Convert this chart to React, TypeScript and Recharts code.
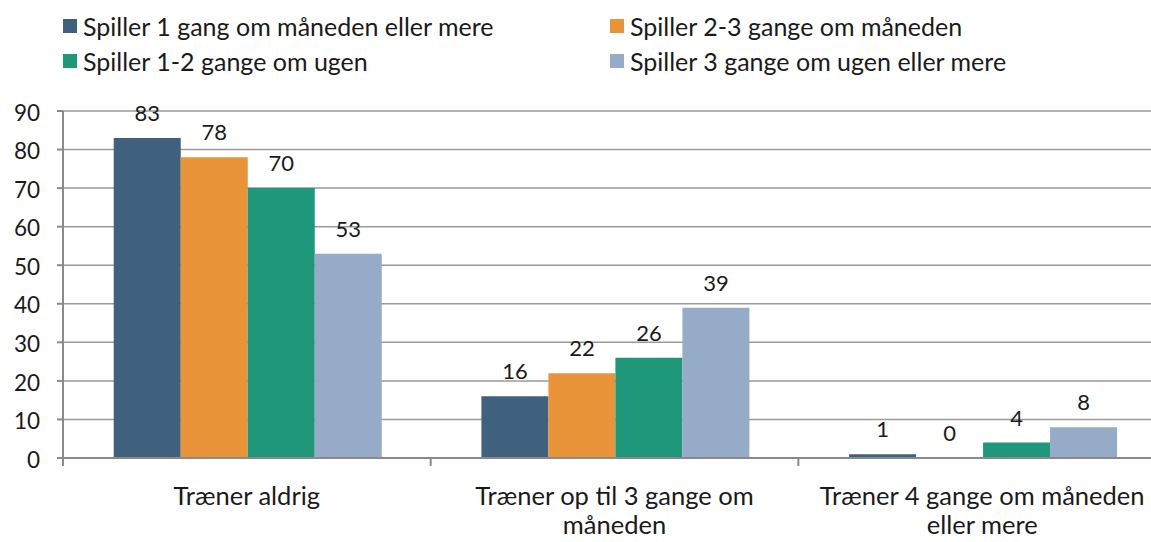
import { BarChart, Bar, XAxis, YAxis, CartesianGrid, LabelList } from "recharts";

// category labels, with the line breaks used in the original
const categories = ["Træner aldrig", "Træner op til 3 gange om\nmåneden", "Træner 4 gange om måneden\neller mere"];
const monthlyOrMore = [83, 16, 1];
const twoThreeMonthly = [78, 22, 0];
const oneTwoWeekly = [70, 26, 4];
const threeWeeklyOrMore = [53, 39, 8];
const yTicks = [0, 10, 20, 30, 40, 50, 60, 70, 80, 90];

const series = [
  { key: "s1", label: "Spiller 1 gang om måneden eller mere", color: "#3f617e", values: monthlyOrMore },
  { key: "s2", label: "Spiller 2-3 gange om måneden", color: "#ea943a", values: twoThreeMonthly },
  { key: "s3", label: "Spiller 1-2 gange om ugen", color: "#1f977a", values: oneTwoWeekly },
  { key: "s4", label: "Spiller 3 gange om ugen eller mere", color: "#95abc8", values: threeWeeklyOrMore },
];

const data = categories.map((name, i) => {
  const row: Record<string, string | number> = { name };
  series.forEach((s) => (row[s.key] = s.values[i]));
  return row;
});

const FONT = "Lato, 'Open Sans', sans-serif";

// tick mark at the group boundary, like the original
function CategoryTick(props: any) {
  const { x, y, payload, band } = props;
  const lines = String(payload.value).split("\n");
  return (
    <g>
      <line x1={x - band / 2} x2={x - band / 2} y1={y} y2={y + 8} stroke="#8a8a8a" strokeWidth={2} />
      <text x={x} y={y + 41} textAnchor="middle" dominantBaseline="middle" fontSize={25.5} fill="#1a1a1a" fontFamily={FONT}>
        {lines.map((l, i) => (
          <tspan key={i} x={x} dy={i === 0 ? 0 : 29}>
            {l}
          </tspan>
        ))}
      </text>
    </g>
  );
}

function YTick(props: any) {
  const { x, y, payload } = props;
  return (
    <text x={x} y={y + 4} textAnchor="end" dominantBaseline="middle" fontSize={22.5} fill="#1a1a1a" fontFamily={FONT}>
      {payload.value}
    </text>
  );
}

function LegendBlock() {
  return (
    <div style={{ position: "absolute", left: 0, top: 0, width: 1151, fontFamily: FONT, fontSize: 25, color: "#1a1a1a" }}>
      {series.map((s, i) => (
        <div
          key={s.key}
          style={{
            position: "absolute",
            left: i % 2 === 0 ? 63 : 610,
            top: i < 2 ? 11 : 46,
            height: 30,
            lineHeight: "30px",
            display: "flex",
            alignItems: "center",
            whiteSpace: "nowrap",
          }}
        >
          <span style={{ width: 14, height: 14, background: s.color, display: "inline-block", marginRight: 6 }} />
          {s.label}
        </div>
      ))}
    </div>
  );
}

export default function App() {
  const chartWidth = 1166;
  const left = 63;
  const band = (chartWidth - left) / categories.length;
  return (
    <div style={{ position: "absolute", left: 0, top: 0, width: 1151, height: 542, overflow: "hidden", background: "#fff" }}>
      <BarChart
        width={chartWidth}
        height={542}
        data={data}
        margin={{ top: 111, right: 0, left: 0, bottom: 0 }}
        barCategoryGap="13.8%"
        barGap={0}
      >
        <CartesianGrid vertical={false} stroke="#9a9a9a" strokeWidth={1.5} />
        <XAxis
          dataKey="name"
          interval={0}
          tickLine={false}
          tickSize={0}
          tickMargin={0}
          axisLine={{ stroke: "#8a8a8a", strokeWidth: 2 }}
          tick={<CategoryTick band={band} />}
          height={84}
        />
        <YAxis
          domain={[0, 90]}
          ticks={yTicks}
          interval={0}
          width={left}
          tickSize={6}
          tickMargin={17}
          axisLine={{ stroke: "#8a8a8a", strokeWidth: 2 }}
          tickLine={{ stroke: "#8a8a8a", strokeWidth: 2 }}
          tick={<YTick />}
        />
        {series.map((s) => (
          <Bar key={s.key} dataKey={s.key} name={s.label} fill={s.color} minPointSize={0.01} isAnimationActive={false}>
            <LabelList
              dataKey={s.key}
              position="top"
              offset={17}
              style={{ fontSize: 22, fill: "#1a1a1a", fontFamily: FONT }}
            />
          </Bar>
        ))}
      </BarChart>
      <LegendBlock />
    </div>
  );
}
